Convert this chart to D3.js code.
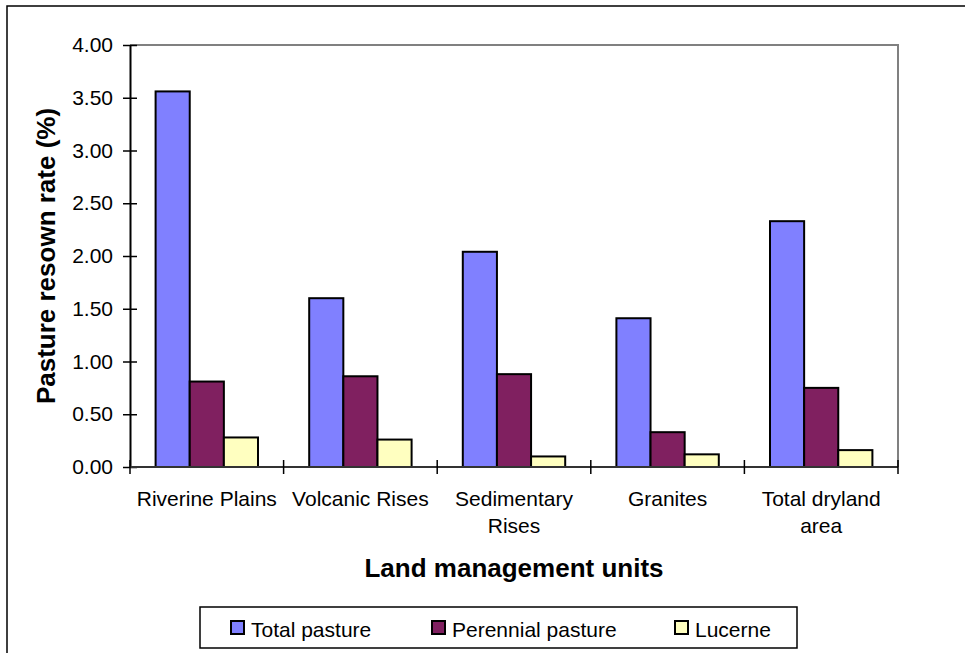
<!DOCTYPE html>
<html>
<head>
<meta charset="utf-8">
<script src="https://cdn.jsdelivr.net/npm/d3@7"></script>
<style>
  html, body { margin: 0; padding: 0; background: #fff; }
  svg { display: block; font-family: Arial, "Liberation Sans", sans-serif; }
</style>
</head>
<body>
<svg id="chart" width="965" height="653"></svg>
<script>
// Land management units (category axis)
const categories = [
  ["Riverine Plains"],
  ["Volcanic Rises"],
  ["Sedimentary", "Rises"],
  ["Granites"],
  ["Total dryland", "area"]
];
const categoryKeys = categories.map(c => c.join(" "));

// Series names and values (% resown)
const seriesNames = ["Total pasture", "Perennial pasture", "Lucerne"];
const totalPasture     = [3.56, 1.60, 2.04, 1.41, 2.33];
const perennialPasture = [0.81, 0.86, 0.88, 0.33, 0.75];
const lucerne          = [0.28, 0.26, 0.10, 0.12, 0.16];
const seriesColors = ["#8080FF", "#802060", "#FFFFC0"];

const yTickValues = [0, 0.5, 1, 1.5, 2, 2.5, 3, 3.5, 4];

const seriesValues = [totalPasture, perennialPasture, lucerne];

const svg = d3.select("#chart");

// Outer chart frame
svg.append("rect")
  .attr("x", 7).attr("y", 6)
  .attr("width", 970).attr("height", 660)
  .attr("fill", "#fff").attr("stroke", "#000").attr("stroke-width", 1.5);

const plot = { left: 130, right: 898, top: 45, bottom: 467 };

const x0 = d3.scaleBand()
  .domain(categoryKeys)
  .range([plot.left, plot.right])
  .paddingInner(0).paddingOuter(0);

const x1 = d3.scaleBand()
  .domain(seriesNames)
  .range([0, x0.bandwidth()])
  .paddingInner(0).paddingOuter(0.75);

const y = d3.scaleLinear().domain([0, 4]).range([plot.bottom, plot.top]);

// Plot area border (top and right in grey)
svg.append("path")
  .attr("d", `M${plot.left},${plot.top}H${plot.right}V${plot.bottom}`)
  .attr("fill", "none").attr("stroke", "#808080").attr("stroke-width", 2);

// Bars
const groups = svg.append("g").selectAll("g")
  .data(categoryKeys)
  .join("g")
  .attr("transform", d => `translate(${x0(d)},0)`);

groups.selectAll("rect")
  .data((d, ci) => seriesNames.map((s, si) => ({ s, si, v: seriesValues[si][ci] })))
  .join("rect")
  .attr("x", d => x1(d.s))
  .attr("y", d => y(d.v))
  .attr("width", x1.bandwidth())
  .attr("height", d => y(0) - y(d.v))
  .attr("fill", d => seriesColors[d.si])
  .attr("stroke", "#000")
  .attr("stroke-width", 2);

// Y axis
const yAxis = svg.append("g")
  .attr("transform", `translate(${plot.left},0)`)
  .call(d3.axisLeft(y).tickValues(yTickValues).tickFormat(d3.format(".2f"))
    .tickSizeInner(7).tickSizeOuter(0).tickPadding(10));
yAxis.select(".domain").attr("stroke", "#000").attr("stroke-width", 2);
yAxis.selectAll(".tick line")
  .attr("x1", -7).attr("x2", 7)
  .attr("stroke", "#000").attr("stroke-width", 1.5);
yAxis.selectAll(".tick text")
  .attr("font-size", 21).attr("fill", "#000")
  .attr("font-family", "Arial, 'Liberation Sans', sans-serif");

// X axis
const xAxis = svg.append("g")
  .attr("transform", `translate(0,${plot.bottom})`);
xAxis.append("line")
  .attr("x1", plot.left).attr("x2", plot.right)
  .attr("stroke", "#333").attr("stroke-width", 2);
const boundaries = categoryKeys.map(k => x0(k)).concat([plot.right]);
xAxis.selectAll("line.tick")
  .data(boundaries)
  .join("line")
  .attr("class", "tick")
  .attr("x1", d => d).attr("x2", d => d)
  .attr("y1", -7).attr("y2", 7)
  .attr("stroke", "#000").attr("stroke-width", 1.5);

// Category labels (may span two lines)
const catLabels = svg.append("g").selectAll("text")
  .data(categories)
  .join("text")
  .attr("x", (d, i) => x0(categoryKeys[i]) + x0.bandwidth() / 2)
  .attr("y", 506)
  .attr("text-anchor", "middle")
  .attr("font-size", 21)
  .attr("fill", "#000");
catLabels.selectAll("tspan")
  .data(d => d)
  .join("tspan")
  .attr("x", function () { return this.parentNode.getAttribute("x"); })
  .attr("dy", (d, i) => i === 0 ? 0 : 26.5)
  .text(d => d);

// Axis titles
svg.append("text")
  .attr("x", (plot.left + plot.right) / 2 - 0)
  .attr("y", 577)
  .attr("text-anchor", "middle")
  .attr("font-size", 26).attr("font-weight", "bold")
  .text("Land management units");

svg.append("text")
  .attr("transform", `translate(55,${(plot.top + plot.bottom) / 2}) rotate(-90)`)
  .attr("text-anchor", "middle")
  .attr("font-size", 26).attr("font-weight", "bold")
  .text("Pasture resown rate (%)");

// Legend
const legend = svg.append("g");
legend.append("rect")
  .attr("x", 200).attr("y", 607)
  .attr("width", 597).attr("height", 41)
  .attr("fill", "#fff").attr("stroke", "#000").attr("stroke-width", 1.5);

const legendX = [231, 432, 675];
const items = legend.selectAll("g.item")
  .data(seriesNames)
  .join("g")
  .attr("class", "item")
  .attr("transform", (d, i) => `translate(${legendX[i]},621)`);
items.append("rect")
  .attr("width", 13).attr("height", 13)
  .attr("fill", (d, i) => seriesColors[i])
  .attr("stroke", "#000").attr("stroke-width", 2);
items.append("text")
  .attr("x", 20).attr("y", 16)
  .attr("font-size", 21)
  .attr("fill", "#000")
  .text(d => d);
</script>
</body>
</html>
